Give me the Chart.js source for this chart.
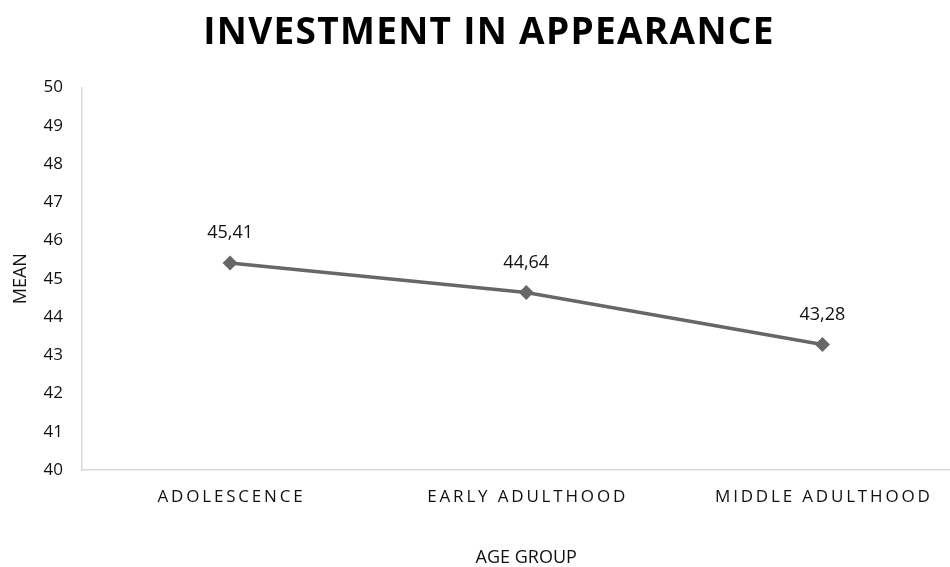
<!DOCTYPE html>
<html>
<head>
<meta charset="utf-8">
<script src="https://cdn.jsdelivr.net/npm/chart.js@4/dist/chart.umd.min.js"></script>
<style>
  html, body { margin: 0; padding: 0; background: #fff; overflow: hidden; }
  #wrap { width: 978px; height: 567px; }
</style>
</head>
<body>
<div id="wrap"><canvas id="myChart"></canvas></div>
<script>
const categories = ['ADOLESCENCE', 'EARLY ADULTHOOD', 'MIDDLE ADULTHOOD'];
const means = [45.41, 44.64, 43.28];
const yTicks = [40, 41, 42, 43, 44, 45, 46, 47, 48, 49, 50];

const font = "'Open Sans', 'Noto Sans', sans-serif";
const spaced = (s, gap) => s.split('').join(gap);

// draws the value above each point, with comma decimals
const valueLabels = {
    id: 'valueLabels',
    afterDatasetsDraw(chart) {
        const ctx = chart.ctx;
        const meta = chart.getDatasetMeta(0);
        ctx.save();
        ctx.font = '18px ' + font;
        ctx.fillStyle = '#111';
        ctx.textAlign = 'center';
        ctx.textBaseline = 'middle';
        meta.data.forEach((pt, i) => {
            ctx.fillText(means[i].toFixed(2).replace('.', ','), pt.x, pt.y - 30);
        });
        ctx.restore();
    }
};

// a little letter spacing for the title only
const titleSpacing = {
    id: 'titleSpacing',
    afterLayout(chart) {
        const tb = chart.titleBlock;
        if (!tb || tb._spaced) return;
        const orig = tb.draw.bind(tb);
        tb.draw = function () {
            this.ctx.save();
            this.ctx.letterSpacing = '1.3px';
            orig();
            this.ctx.restore();
        };
        tb._spaced = true;
    }
};

const ctx = document.getElementById('myChart').getContext('2d');

const myChart = new Chart(ctx, {
    type: 'line',
    data: {
        labels: categories,
        datasets: [{
            label: 'Mean',
            data: means,
            borderColor: '#676767',
            backgroundColor: '#676767',
            borderWidth: 3.5,
            pointStyle: 'rectRot',
            pointRadius: 7.5,
            pointBorderWidth: 0,
            tension: 0
        }]
    },
    options: {
        responsive: true,
        maintainAspectRatio: false,
        animation: false,
        plugins: {
            legend: { display: false },
            tooltip: { enabled: false },
            title: {
                display: true,
                text: 'INVESTMENT IN APPEARANCE',
                color: '#000',
                font: { family: font, size: 37, weight: 'bold' },
                padding: { top: 11, bottom: 32 }
            }
        },
        scales: {
            x: {
                offset: true,
                grid: { display: false, drawTicks: false },
                border: { color: '#d9d9d9', width: 1.5 },
                ticks: {
                    color: '#111',
                    font: { family: font, size: 17 },
                    padding: 17,
                    maxRotation: 0,
                    callback: function (value, index) {
                        return spaced(categories[index], '\u2009');
                    }
                },
                title: {
                    display: true,
                    text: 'AGE GROUP',
                    color: '#111',
                    font: { family: font, size: 18 },
                    padding: { top: 31, bottom: -2 }
                },
                afterFit: s => { s.height = 97; }
            },
            y: {
                min: 40,
                max: 50,
                grid: { display: false, drawTicks: false },
                border: { color: '#d9d9d9', width: 1.5 },
                afterBuildTicks: s => { s.ticks = yTicks.map(v => ({ value: v })); },
                ticks: {
                    color: '#111',
                    font: { family: font, size: 17 },
                    padding: 19
                },
                title: {
                    display: true,
                    text: 'MEAN',
                    color: '#111',
                    font: { family: font, size: 18 },
                    padding: { top: 10, bottom: 0 }
                },
                afterFit: s => { s.width = 82; }
            }
        }
    },
    plugins: [valueLabels, titleSpacing]
});
</script>
</body>
</html>
